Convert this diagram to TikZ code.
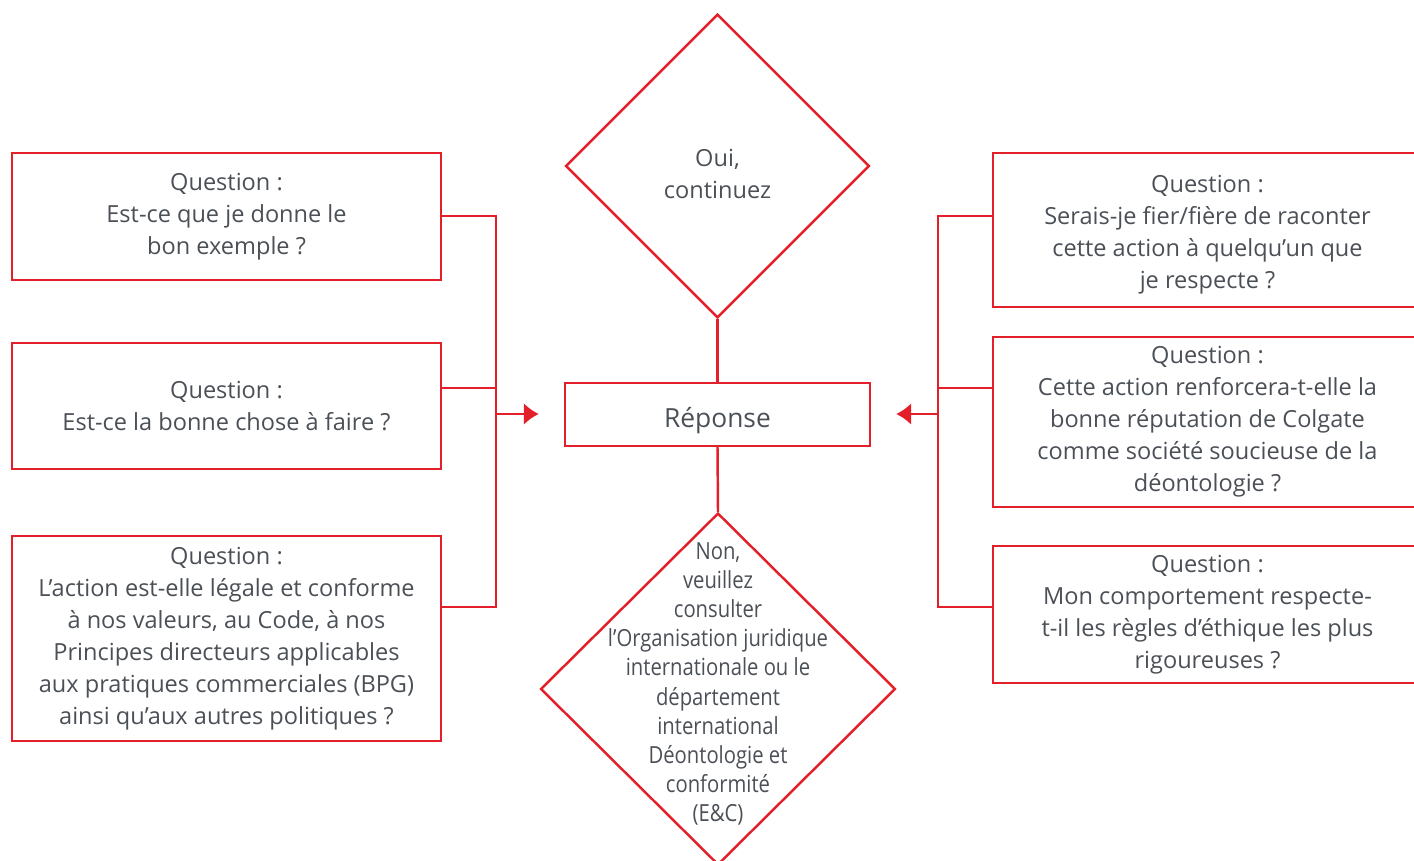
\documentclass[tikz,border=0pt]{standalone}
\usepackage{fontspec}
\setmainfont{Open Sans}
\newfontfamily\narrowfont[FakeStretch=0.86]{Open Sans}
\usetikzlibrary{positioning,shapes.geometric,arrows.meta}
\definecolor{cpred}{HTML}{E3202A}
\definecolor{cptext}{HTML}{4B5057}
\tikzset{
  question box/.style={
    draw=cpred,
    line width=1.4pt,
    minimum width=8.58cm,
    minimum height={#1cm},
    text=cptext,
    align=center,
    font=\fontsize{13.4}{18.2}\selectfont,
  },
  decision/.style={
    diamond,
    draw=cpred,
    line width=1.4pt,
    inner sep=0pt,
  },
  link/.style={
    draw=cpred,
    line width=1.4pt,
  },
  feed/.style={
    link,
    -{Latex[length=0.3cm,width=0.44cm]},
  }
}
\begin{document}
\begin{tikzpicture}[x=0.02cm,y=-0.02cm]
        \useasboundingbox (0,0) rectangle (1414,861);
        \clip (0,0) rectangle (1414,861);

        % left column
        \node [question box=2.54] (q1) at (226.5,216.5) {Question :\\Est-ce que je donne le\\bon exemple ?};
        \node [question box=2.52] (q2) at (226.5,406) {Question :\\Est-ce la bonne chose à faire ?};
        \node [question box=4.1] (q3) at (226.5,638.5) {Question :\\L’action est-elle légale et conforme\\à nos valeurs, au Code, à nos\\Principes directeurs applicables\\aux pratiques commerciales (BPG)\\ainsi qu’aux autres politiques ?};

        % right column
        \node [question box=3.08] (q4) at (1207.5,230) {\raisebox{-0.1cm}[\height][\depth]{\parbox{8cm}{\centering Question :\\Serais-je fier/fière de raconter\\cette action à quelqu’un que\\je respecte ?}}};
        \node [question box=3.4] (q5) at (1207.5,422) {Question :\\Cette action renforcera-t-elle la\\bonne réputation de Colgate\\comme société soucieuse de la\\déontologie ?};
        \node [question box=2.74] (q6) at (1207.5,614.5) {Question :\\Mon comportement respecte-\\t-il les règles d’éthique les plus\\rigoureuses ?};

        % middle
        \node [question box=1.26, minimum width=6.1cm, font=\fontsize{15}{18}\selectfont] (rep) at (717.5,414.5) {\raisebox{-0.12cm}[\height][\depth]{Réponse}};
        \node [decision, minimum width=6.08cm, minimum height=6.08cm] (oui) at (717.5,166) {};
        \node [text=cptext, align=center, font=\fontsize{13.4}{18.2}\selectfont] (ouitext) at (oui.center) [yshift=-0.16cm] {Oui,\\continuez};
        \node [decision, minimum width=7.1cm, minimum height=7.04cm] (non) at (718,689) {};
        \node [text=cptext, align=center, font=\narrowfont\fontsize{13.4}{16.6}\selectfont] (nontext) at (non.center) [yshift=0.1cm] {Non,\\veuillez\\consulter\\l’Organisation juridique\\internationale ou le\\département\\international\\Déontologie et\\conformité\\(E\&C)};

        \draw [link] (oui.south) -- (rep.north);
        \draw [link] (rep.south) -- (non.north);

        % left bus
        \coordinate (lbus top) at (496,216);
        \coordinate (lbus mid) at (496,388);
        \coordinate (lbus bot) at (496,607);
        \coordinate (lbus arr) at (496,414);
        \draw [link] (q1.east |- lbus top) -- (lbus top) -- (lbus bot) -- (q3.east |- lbus bot);
        \draw [link] (q2.east |- lbus mid) -- (lbus mid);
        \draw [feed, shorten >=0.5cm] (lbus arr) -- (rep.west |- lbus arr);

        % right bus
        \coordinate (rbus top) at (938,216);
        \coordinate (rbus mid) at (938,388);
        \coordinate (rbus bot) at (938,607);
        \coordinate (rbus arr) at (938,414);
        \draw [link] (q4.west |- rbus top) -- (rbus top) -- (rbus bot) -- (q6.west |- rbus bot);
        \draw [link] (q5.west |- rbus mid) -- (rbus mid);
        \draw [feed, shorten >=0.5cm] (rbus arr) -- (rep.east |- rbus arr);
      \end{tikzpicture}
\end{document}
